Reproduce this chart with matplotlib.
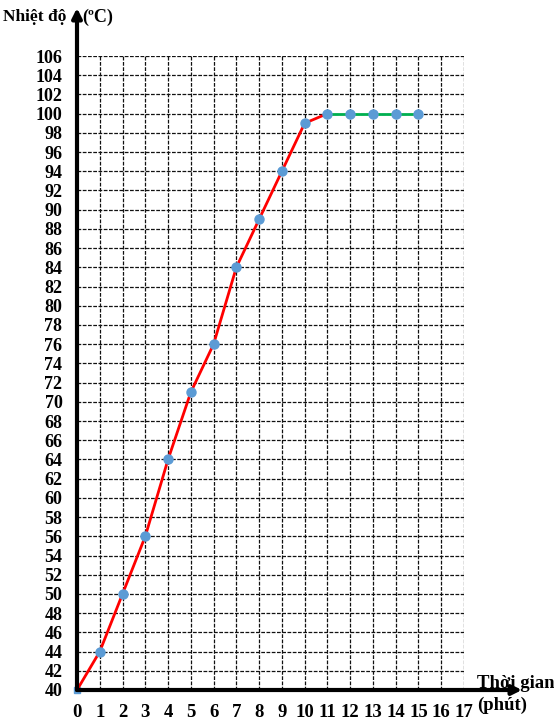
import matplotlib
matplotlib.use("Agg")
import matplotlib.pyplot as plt

# Data
time_red = [0, 1, 2, 3, 4, 5, 6, 7, 8, 9, 10, 11]
temp_red = [40, 44, 50, 56, 64, 71, 76, 84, 89, 94, 99, 100]
time_green = [11, 12, 13, 14, 15]
temp_green = [100, 100, 100, 100, 100]
x_ticks = list(range(0, 18))
y_ticks = list(range(40, 107, 2))

plt.rcParams['font.family'] = ['Liberation Serif', 'DejaVu Serif']
plt.rcParams['font.weight'] = 'bold'

W, H = 554, 720
fig = plt.figure(figsize=(W / 100, H / 100), dpi=100)
x0, x1 = 77, 464
y0, y1 = 690, 56
ax = fig.add_axes([x0 / W, (H - y0) / H, (x1 - x0) / W, (y0 - y1) / H])
ax.set_xlim(0, 17)
ax.set_ylim(40, 106)
ax.set_xticks(x_ticks)
ax.set_yticks(y_ticks)
ax.set_xticklabels([str(v) for v in x_ticks], fontsize=13.5, fontweight='bold')
ax.set_yticklabels([str(v) for v in y_ticks], fontsize=13, fontweight='bold')
ax.tick_params(length=0)
ax.tick_params(axis='y', pad=10.5)
ax.tick_params(axis='x', pad=10)
for s in ax.spines.values():
    s.set_visible(False)
ax.grid(True, color='#111111', linestyle=(0, (3, 1.2)), linewidth=0.9)
ax.set_axisbelow(True)

ax.plot(time_red, temp_red, color='#ff0000', linewidth=2, zorder=3)
ax.plot(time_green, temp_green, color='#00b050', linewidth=2, zorder=3)
ax.plot(time_red[1:] + time_green[1:], temp_red[1:] + temp_green[1:], linestyle='none',
        marker='o', markersize=6.5, markerfacecolor='#5b9bd5',
        markeredgecolor='#5b9bd5', zorder=4)
ax.plot(time_red[:1], temp_red[:1], linestyle='none', marker='s', markersize=4.5,
        markerfacecolor='#5b9bd5', markeredgecolor='#5b9bd5', zorder=2, clip_on=False)

# Axis arrows
ax.annotate('', xy=(0, (y0 - 8) / (y0 - y1)), xytext=(0, 0), xycoords='axes fraction',
            arrowprops=dict(arrowstyle='-|>', color='black', lw=3, mutation_scale=14,
                            shrinkA=0, shrinkB=0), zorder=5)
ax.annotate('', xy=((522 - x0) / (x1 - x0), 0), xytext=(0, 0), xycoords='axes fraction',
            arrowprops=dict(arrowstyle='-|>', color='black', lw=3, mutation_scale=14,
                            shrinkA=0, shrinkB=0), zorder=5)

fig.text(3 / W, 1 - 17 / H, 'Nhiệt độ', fontsize=12.5, fontweight='bold', ha='left', va='center')
fig.text(82 / W, 1 - 17 / H, '(ºC)', fontsize=13, fontweight='bold', ha='left', va='center')
fig.text(477 / W, 1 - 683 / H, 'Thời gian', fontsize=13.5, fontweight='bold', ha='left', va='center')
fig.text(477 / W, 1 - 705 / H, '(phút)', fontsize=13.5, fontweight='bold', ha='left', va='center')

fig.savefig('out.png', dpi=100)
